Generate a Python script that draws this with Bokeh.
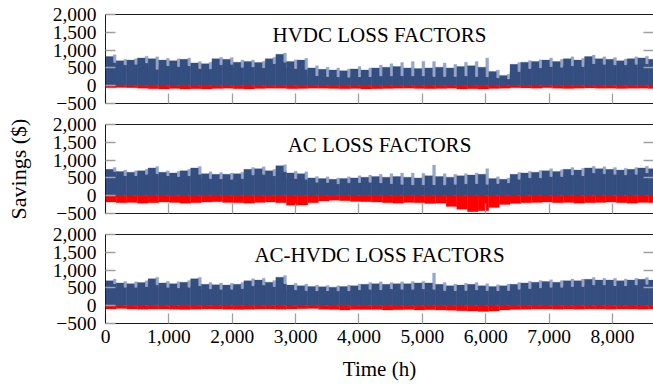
from bokeh.plotting import figure
from bokeh.layouts import column
from bokeh.models import Range1d, FixedTicker, LinearAxis, Label, ColumnDataSource
from bokeh.embed import file_html
from bokeh.resources import INLINE

# Hourly savings summarised per week (52 weeks of 168 h): the level reached
# through most of the week (body), the typical daily peak (top), the highest
# spike (peak) and the most negative hour (neg).
HOURS_PER_WEEK = 168
weeks = list(range(52))

hvdc_body = [650, 580, 600, 640, 460, 560, 540, 560, 480, 470, 580, 600, 520, 530, 500, 620,
             660, 480, 460, 280, 260, 250, 240, 250, 250, 270, 270, 280, 270, 270, 260, 260,
             260, 270, 260, 250, 220, 190, 400, 480, 500, 540, 520, 560, 540, 620, 600, 580,
             580, 600, 610, 580]
hvdc_top = [820, 700, 720, 780, 760, 720, 700, 740, 640, 620, 760, 740, 660, 680, 650, 760,
            880, 680, 720, 500, 460, 440, 420, 470, 440, 500, 520, 540, 500, 480, 500, 520,
            500, 540, 560, 520, 400, 290, 600, 660, 680, 720, 680, 760, 720, 820, 760, 740,
            700, 760, 780, 740]
hvdc_peak = [870, 740, 760, 830, 810, 770, 760, 780, 680, 660, 800, 790, 720, 720, 690, 800,
             920, 730, 770, 560, 520, 500, 470, 540, 500, 580, 620, 650, 680, 690, 680, 640,
             600, 660, 680, 780, 440, 320, 650, 710, 730, 780, 740, 810, 770, 860, 810, 790,
             750, 810, 830, 790]
hvdc_neg = [-60, -50, -55, -70, -85, -90, -80, -95, -85, -90, -80, -75, -85, -90, -80, -70,
            -75, -85, -80, -70, -75, -80, -85, -80, -90, -85, -80, -75, -70, -80, -85, -80,
            -75, -90, -85, -95, -80, -70, -60, -65, -70, -60, -75, -80, -70, -65, -75, -70,
            -80, -75, -70, -80]

ac_body = [680, 560, 560, 600, 620, 560, 540, 560, 600, 480, 470, 460, 480, 580, 600, 560,
           680, 480, 460, 380, 370, 330, 360, 370, 380, 360, 340, 320, 300, 300, 310, 300,
           320, 330, 340, 320, 340, 360, 460, 500, 500, 540, 540, 580, 560, 640, 620, 600,
           580, 600, 640, 620]
ac_top = [740, 680, 660, 700, 780, 660, 640, 700, 780, 620, 600, 600, 620, 740, 760, 700,
          840, 640, 620, 500, 480, 460, 480, 500, 520, 540, 520, 540, 520, 500, 560, 540,
          520, 560, 580, 600, 480, 460, 600, 640, 660, 700, 680, 740, 720, 780, 760, 740,
          720, 740, 780, 760]
ac_peak = [790, 720, 700, 740, 820, 700, 690, 740, 820, 670, 650, 640, 660, 790, 810, 740,
           870, 690, 670, 540, 530, 500, 530, 560, 580, 600, 620, 640, 640, 630, 860, 620,
           600, 620, 640, 760, 530, 500, 660, 690, 710, 760, 730, 790, 770, 830, 810, 790,
           770, 790, 830, 810]
ac_neg = [-180, -200, -190, -210, -200, -180, -190, -210, -200, -180, -170, -190, -200, -210,
          -190, -180, -200, -270, -260, -200, -150, -130, -140, -160, -170, -180, -200, -210,
          -190, -200, -220, -210, -300, -380, -450, -420, -330, -250, -220, -200, -190, -180,
          -200, -190, -210, -200, -190, -180, -200, -210, -190, -200]

achvdc_body = [620, 520, 520, 540, 580, 520, 500, 520, 560, 470, 460, 460, 480, 560, 580, 540,
               620, 440, 430, 420, 420, 410, 420, 440, 460, 450, 470, 460, 460, 470, 460, 430,
               420, 430, 440, 430, 420, 430, 460, 480, 500, 520, 520, 540, 540, 580, 580, 560,
               560, 580, 600, 580]
achvdc_top = [700, 640, 620, 650, 760, 640, 620, 660, 760, 600, 590, 580, 600, 700, 720, 660,
              800, 580, 560, 540, 530, 520, 540, 560, 600, 620, 600, 620, 620, 640, 640, 600,
              560, 580, 600, 560, 540, 560, 600, 640, 660, 680, 660, 700, 700, 740, 720, 720,
              700, 720, 740, 720]
achvdc_peak = [750, 680, 670, 700, 800, 690, 670, 710, 800, 650, 640, 630, 650, 760, 770, 710,
               850, 630, 610, 580, 570, 560, 580, 610, 650, 670, 650, 670, 680, 690, 920, 650,
               610, 630, 650, 620, 590, 610, 650, 690, 710, 730, 710, 750, 750, 790, 770, 770,
               750, 770, 790, 770]
achvdc_neg = [-90, -80, -90, -100, -95, -90, -100, -110, -100, -90, -95, -100, -105, -100, -95,
              -90, -100, -90, -85, -80, -100, -110, -120, -110, -105, -110, -120, -115, -110,
              -120, -115, -120, -130, -140, -150, -160, -150, -120, -110, -100, -95, -90, -100,
              -95, -100, -90, -95, -100, -90, -95, -100, -90]

panel_titles = ["HVDC LOSS FACTORS", "AC LOSS FACTORS", "AC-HVDC LOSS FACTORS"]
y_ticks = [-500, 0, 500, 1000, 1500, 2000]
y_tick_labels = ["\u2212500", "0", "500", "1,000", "1,500", "2,000"]
x_ticks = [0, 1000, 2000, 3000, 4000, 5000, 6000, 7000, 8000]
x_tick_labels = ["0", "1,000", "2,000", "3,000", "4,000", "5,000", "6,000", "7,000", "8,000"]

series = [
    (hvdc_body, hvdc_top, hvdc_peak, hvdc_neg),
    (ac_body, ac_top, ac_peak, ac_neg),
    (achvdc_body, achvdc_top, achvdc_peak, achvdc_neg),
]

DARK = "#354e80"
LIGHT = "#97a6c9"
RED = "#ff0000"
TICK = "#a0a0a0"
FRAME = "#1a1a1a"
SERIF = "Liberation Serif"
NUM_FONT = "Liberation Serif"
NUM_SIZE = "19.5px"

x_range = Range1d(0, 8648)
layout_rows = [
    dict(height=114, top=14, bottom=11),
    dict(height=110, top=10, bottom=11),
    dict(height=161, top=10, bottom=62),
]


def blank(ticks):
    return {t: "" for t in ticks}


figs = []
for i, (title, (body, top, peak, neg), geo) in enumerate(zip(panel_titles, series, layout_rows)):
    for arr in (body, top, peak, neg):
        assert len(arr) == len(weeks)
    src = ColumnDataSource(dict(
        x=[w * HOURS_PER_WEEK + HOURS_PER_WEEK / 2 for w in weeks],
        x_day=[w * HOURS_PER_WEEK + HOURS_PER_WEEK * 0.36 for w in weeks],
        x_spike=[w * HOURS_PER_WEEK + HOURS_PER_WEEK * 0.86 for w in weeks],
        body=body, top=top, peak=peak, neg=neg,
    ))
    p = figure(width=653, height=geo["height"], x_range=x_range,
               y_range=Range1d(-500, 2000), output_backend="svg",
               toolbar_location=None, x_axis_location=None, y_axis_location=None,
               min_border_left=105, min_border_right=0,
               min_border_top=geo["top"], min_border_bottom=geo["bottom"])
    p.outline_line_color = None
    p.xgrid.visible = False
    p.ygrid.visible = False
    p.background_fill_color = "white"
    p.border_fill_color = "white"

    # savings bars: dark weekly mass, dark daily peaks, light single-hour spikes, red losses
    p.vbar(x="x", width=HOURS_PER_WEEK, bottom=0, top="body", source=src,
           fill_color=DARK, line_color=DARK, line_width=0.3)
    p.vbar(x="x_spike", width=HOURS_PER_WEEK * 0.28, bottom="body", top="peak", source=src,
           fill_color=LIGHT, line_color=LIGHT, line_width=0.3)
    p.vbar(x="x_day", width=HOURS_PER_WEEK * 0.72, bottom=0, top="top", source=src,
           fill_color=DARK, line_color=DARK, line_width=0.3)
    p.vbar(x="x", width=HOURS_PER_WEEK, bottom="neg", top=0, source=src,
           fill_color=RED, line_color=RED, line_width=0.3)

    y_over = {t: s for t, s in zip(y_ticks, y_tick_labels)}
    left = LinearAxis(ticker=FixedTicker(ticks=y_ticks), major_label_overrides=y_over,
                      major_tick_in=10, major_tick_out=0, major_tick_line_color=TICK,
                      major_tick_line_width=1.3, minor_tick_line_color=None,
                      axis_line_color=FRAME, axis_line_width=1,
                      major_label_text_font=NUM_FONT, major_label_text_font_size=NUM_SIZE,
                      major_label_text_color="black", major_label_standoff=9)
    if i == 1:
        left.axis_label = "Savings ($)"
        left.axis_label_text_font = SERIF
        left.axis_label_text_font_style = "normal"
        left.axis_label_text_font_size = "22px"
        left.axis_label_text_color = "black"
        left.axis_label_standoff = 19
    p.add_layout(left, "left")

    right = LinearAxis(ticker=FixedTicker(ticks=[500, 1000, 1500]),
                       major_label_overrides=blank([500, 1000, 1500]),
                       major_tick_in=10, major_tick_out=0,
                       major_tick_line_color=TICK, major_tick_line_width=1.3,
                       minor_tick_line_color=None, axis_line_color=None,
                       major_label_standoff=0)
    p.add_layout(right, "right")

    above = LinearAxis(ticker=FixedTicker(ticks=[]), axis_line_color=FRAME, axis_line_width=1,
                       major_tick_line_color=None, minor_tick_line_color=None,
                       major_label_standoff=0)
    p.add_layout(above, "above")

    if i == 2:
        x_over = {t: s for t, s in zip(x_ticks, x_tick_labels)}
    else:
        x_over = blank(x_ticks)
    below = LinearAxis(ticker=FixedTicker(ticks=x_ticks), major_label_overrides=x_over,
                       major_tick_in=10, major_tick_out=0, major_tick_line_color=TICK,
                       major_tick_line_width=1.3, minor_tick_line_color=None,
                       axis_line_color=FRAME, axis_line_width=1,
                       major_label_text_font=NUM_FONT, major_label_text_color="black",
                       major_label_text_font_size=NUM_SIZE)
    if i == 2:
        below.major_label_standoff = 6
        below.axis_label = "Time (h)"
        below.axis_label_text_font = SERIF
        below.axis_label_text_font_style = "normal"
        below.axis_label_text_font_size = "21px"
        below.axis_label_text_color = "black"
        below.axis_label_standoff = 11
    else:
        below.major_label_standoff = 0
    p.add_layout(below, "below")

    p.add_layout(Label(x=(x_range.start + x_range.end) / 2, y=1430, text=title,
                       text_align="center", text_baseline="alphabetic",
                       text_font=SERIF, text_font_size="21px", text_color="black"))
    figs.append(p)

layout = column(*figs, spacing=0)
open("out.html", "w").write(file_html(layout, INLINE))
